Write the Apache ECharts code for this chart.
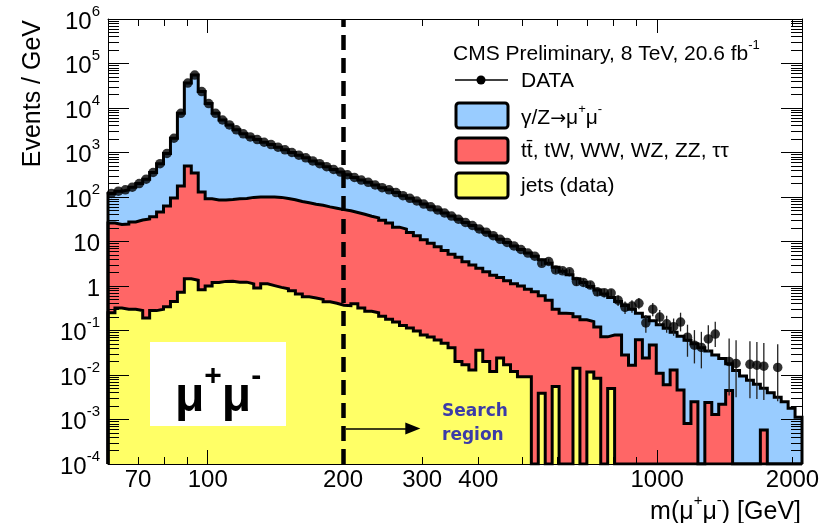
<!DOCTYPE html>
<html>
<head>
<meta charset="utf-8">
<script src="https://cdn.jsdelivr.net/npm/echarts@6/dist/echarts.min.js"></script>
<style>
html,body{margin:0;padding:0;background:#fff;}
#chart{width:836px;height:523px;}
</style>
</head>
<body>
<div id="chart"></div>
<script>
// Binning: log-spaced bins in dimuon mass
const massMin = 60, massMax = 2100, nBins = 100;

// Stacked heights per bin (events / GeV), cumulative from the bottom of the stack
const dyStack = [
  120,135,145,166,200,251,355,562,955,2090,
  7590,36300,55000,23400,12600,7590,5370,4170,3240,2630,
  2240,1950,1700,1510,1320,1150,1000,871,759,646,
  562,479,417,363,316,275,240,214,186,162,
  145,126,107,93.3,81.3,69.2,60.3,51.3,43.7,37.2,
  31.6,26.9,22.9,19.1,16.2,13.5,11.2,9.55,7.94,6.61,
  5.50,4.68,3.89,3.24,2.63,2.14,1.78,1.45,1.20,0.977,
  0.813,0.661,0.550,0.447,0.363,0.302,0.245,0.200,0.166,0.135,
  0.112,0.0912,0.0741,0.0603,0.0501,0.0407,0.0347,0.0282,0.0234,0.0178,
  0.0126,0.00955,0.00759,0.00617,0.00501,0.00398,0.00316,0.00251,0.00178,0.00112
];
const ewkStack = [
  26,24,24.6,27.5,30.4,32,36,46,63,95,
  177,500,347,129,91,86,86,88,91,93,
  98,100,100,100,98,93,87,79,74,69,
  65,60,56,52,49,45,41,37,34,30,
  26,21,19,16,13.5,11,9.1,7.6,6.3,5.2,
  4.4,3.5,2.95,2.5,2.1,1.74,1.55,1.32,1.12,1.0,
  0.85,0.74,0.60,0.48,0.30,0.245,0.24,0.204,0.174,0.158,
  0.12,0.072,0.079,0.079,0.028,0.0166,0.062,0.024,0.047,0.011,
  0.006,0.0129,0.0046,0.00081,0.0025,0,0.0024,0.0013,0.0022,0.0045,
  0,0,0,0,0.00058,0,0,0,0,0
];
const jetsStack = [
  0.25,0.32,0.30,0.30,0.28,0.19,0.28,0.30,0.34,0.45,
  0.72,1.45,1.35,0.82,1.0,1.2,1.27,1.28,1.22,1.22,
  1.12,0.90,1.12,1.02,0.93,0.87,0.78,0.66,0.57,0.54,
  0.50,0.44,0.41,0.37,0.36,0.40,0.32,0.27,0.25,0.21,
  0.18,0.155,0.13,0.114,0.098,0.079,0.071,0.061,0.052,0.041,
  0.020,0.017,0.013,0.036,0.020,0.012,0.024,0.017,0.012,0.0091,
  0.0091,0,0.0039,0,0.0055,0,0,0.0141,0,0.0117,
  0.0085,0,0.0050,0,0,0,0,0,0,0,
  0,0,0,0,0,0,0,0,0,0,
  0,0,0,0,0,0,0,0,0,0
];

// Observed data (events / GeV); null = empty bin
const dataValues = [
  120,135,145,166,200,251,355,562,955,2090,
  7590,36300,55000,23400,12600,7590,5370,4170,3240,2630,
  2240,1950,1700,1510,1320,1150,1000,871,759,646,
  562,479,417,363,316,275,240,214,186,162,
  145,126,107,93.3,81.3,69.2,60.3,51.3,43.7,37.2,
  31.6,26.9,22.9,19.1,16.2,13.5,11.2,9.55,7.94,6.61,
  5.50,4.68,3.24,3.55,2.29,2.19,2.09,1.26,1.20,1.05,
  0.741,0.708,0.692,0.479,0.331,0.355,0.407,0.148,0.302,0.200,
  0.141,0.122,0.155,0.0708,0.0468,0.0417,0.0646,0.0832,null,0.0200,
  0.0182,null,0.0174,0.0166,0.0158,null,0.0148,null,null,null
];
// Visible error bars, starting at bin errorFirstBin
const errorFirstBin = 62;
const dataLow = [
  2.82,3.09,1.95,1.86,1.78,1.02,0.977,0.851,
  0.589,0.562,0.550,0.355,0.234,0.251,0.302,0.0891,0.209,0.132,
  0.0891,0.0759,0.0955,0.0257,0.0182,0.0141,0.0331,0.0427,null,0.00347,
  0.00316,null,0.00302,0.00288,0.00275,null,0.00257,null,null,null
];
const dataHigh = [
  3.72,4.07,2.63,2.51,2.40,1.51,1.45,1.26,
  0.891,0.851,0.832,0.617,0.447,0.479,0.537,0.224,0.417,0.288,
  0.214,0.186,0.251,0.135,0.102,0.0933,0.132,0.158,null,0.0661,
  0.0603,null,0.0575,0.0550,0.0525,null,0.0490,null,null,null
];

// Axis ticks and labels
const yMin = 1e-4, yMax = 1e6;
const xLabelValues = [70, 100, 200, 300, 400, 1000, 2000];
const xMajorTicks = [100, 1000];
const xMinorTicks = [70, 80, 90, 200, 300, 400, 500, 600, 700, 800, 900, 2000];
const yDecades = [-4, -3, -2, -1, 0, 1, 2, 3, 4, 5, 6];

// Search window marker
const searchStart = 200;
const arrowFrom = 203, arrowTo = 286, arrowLevel = 6.3e-4;

const FONT = '"Liberation Sans", Arial, Helvetica, sans-serif';
const colors = { dy: '#99ccff', ewk: '#ff6666', jets: '#ffff66' };

const ratio = Math.pow(massMax / massMin, 1 / nBins);
const edges = Array.from({ length: nBins + 1 }, (_, k) => massMin * Math.pow(ratio, k));
const centers = edges.slice(0, -1).map((e, k) => Math.sqrt(e * edges[k + 1]));

const yMajorTicks = yDecades.map(e => Math.pow(10, e));
const yMinorTicks = [];
yDecades.slice(0, -1).forEach(e => { for (let m = 2; m <= 9; m++) yMinorTicks.push(m * Math.pow(10, e)); });

// Histogram outline: points on low edges, closed down to the floor at both ends
function stepData(vals) {
  const pts = [[edges[0], yMin]];
  vals.forEach((v, k) => pts.push([edges[k], v > 0 ? v : yMin]));
  const last = vals[nBins - 1];
  pts.push([edges[nBins], last > 0 ? last : yMin]);
  pts.push([edges[nBins], yMin]);
  return pts;
}

function histSeries(name, vals, color) {
  return {
    name, type: 'line', data: stepData(vals), step: 'end',
    xAxisIndex: 0, yAxisIndex: 0,
    symbol: 'none', clip: true, silent: true,
    lineStyle: { color: '#000', width: 3, join: 'miter' },
    areaStyle: { color, opacity: 1, origin: 'start' }
  };
}

const markerData = [];
dataValues.forEach((v, k) => { if (v != null) markerData.push([centers[k], v]); });
const errorData = [];
dataLow.forEach((lo, i) => {
  if (lo != null) errorData.push([centers[errorFirstBin + i], lo, dataHigh[i]]);
});

function logAxis(kind, position, major, tickLen, ticks, extra) {
  const isX = kind === 'x';
  return Object.assign({
    type: 'log', logBase: 10,
    min: isX ? massMin : yMin, max: isX ? massMax : yMax,
    position, z: 10,
    splitLine: { show: false },
    axisLine: { show: major, onZero: false, lineStyle: { color: '#000', width: 1 } },
    axisTick: { show: true, inside: true, length: tickLen, customValues: ticks, lineStyle: { color: '#000', width: 1 } },
    axisLabel: { show: false }
  }, extra || {});
}

const textRich = (size, supSize, lift) => ({
  b: { fontFamily: FONT, fontSize: size, fill: '#000', padding: [lift, 0, 0, 0], verticalAlign: 'bottom' },
  a: { fontFamily: '"DejaVu Sans", sans-serif', fontSize: size - 2, fill: '#000', padding: [lift, 0, 0, 0], verticalAlign: 'bottom' },
  s: { fontFamily: FONT, fontSize: supSize, fill: '#000', verticalAlign: 'top' }
});

const option = {
  animation: false,
  backgroundColor: '#fff',
  grid: { left: 108, right: 34, top: 19, bottom: 59 },
  xAxis: [
    logAxis('x', 'bottom', true, 14, xMajorTicks, {
      axisLabel: {
        show: true, customValues: xLabelValues, margin: 4,
        fontFamily: FONT, fontSize: 24, color: '#000',
        formatter: v => String(Math.round(v))
      }
    }),
    logAxis('x', 'bottom', false, 7, xMinorTicks),
    logAxis('x', 'top', true, 14, xMajorTicks),
    logAxis('x', 'top', false, 7, xMinorTicks)
  ],
  yAxis: [
    logAxis('y', 'left', true, 21, yMajorTicks, {
      axisLabel: {
        show: true, customValues: yMajorTicks, margin: 8,
        formatter: v => {
          const e = Math.round(Math.log10(v));
          if (e === 0) return '{b|1}';
          if (e === 1) return '{b|10}';
          return '{b|10}{s|' + e + '}';
        },
        rich: {
          b: { fontFamily: FONT, fontSize: 24, color: '#000', padding: [6, 0, 0, 0], verticalAlign: 'bottom' },
          s: { fontFamily: FONT, fontSize: 15, color: '#000', verticalAlign: 'top' }
        }
      }
    }),
    logAxis('y', 'left', false, 11, yMinorTicks),
    logAxis('y', 'right', true, 21, yMajorTicks),
    logAxis('y', 'right', false, 11, yMinorTicks)
  ],
  series: [
    histSeries('γ/Z→μμ', dyStack, colors.dy),
    histSeries('tt, tW, WW, WZ, ZZ, ττ', ewkStack, colors.ewk),
    histSeries('jets (data)', jetsStack, colors.jets),
    {
      name: 'DATA errors', type: 'custom', xAxisIndex: 0, yAxisIndex: 0,
      data: errorData, silent: true, z: 4,
      renderItem: (params, api) => {
        const x = api.value(0);
        const p1 = api.coord([x, api.value(1)]);
        const p2 = api.coord([x, api.value(2)]);
        return { type: 'line', shape: { x1: p1[0], y1: p1[1], x2: p2[0], y2: p2[1] },
                 style: { stroke: '#222', lineWidth: 1.3 } };
      }
    },
    {
      name: 'DATA', type: 'scatter', xAxisIndex: 0, yAxisIndex: 0,
      data: markerData, symbol: 'circle', symbolSize: 9.5, silent: true, z: 5,
      itemStyle: { color: '#000' },
      markLine: {
        silent: true, symbol: 'none', animation: false,
        label: { show: false },
        data: [
          { xAxis: searchStart, lineStyle: { type: [15, 8], width: 4.5, color: '#000' } },
          [
            { coord: [arrowFrom, arrowLevel], symbol: 'none', lineStyle: { type: 'solid', width: 1.6, color: '#000' } },
            { coord: [arrowTo, arrowLevel], symbol: 'triangle', symbolSize: [12, 15] }
          ]
        ]
      }
    }
  ],
  graphic: [
    // axis titles
    { type: 'text', x: 33, y: 20, rotation: Math.PI / 2, z: 20,
      style: { text: 'Events / GeV', font: '25px ' + FONT, fill: '#000', align: 'right', verticalAlign: 'middle' } },
    { type: 'text', x: 801, y: 509, z: 20,
      style: { text: '{b|m(μ}{s|+}{b|μ}{s|-}{b|) [GeV]}', align: 'right', verticalAlign: 'middle',
        rich: textRich(25, 15, 6) } },
    // legend
    { type: 'text', x: 453, y: 52, z: 20,
      style: { text: '{b|CMS Preliminary, 8 TeV, 20.6 fb}{s|-1}', align: 'left', verticalAlign: 'middle',
        rich: textRich(21, 13, 5) } },
    { type: 'line', z: 20, shape: { x1: 455, y1: 80, x2: 508, y2: 80 }, style: { stroke: '#000', lineWidth: 1.3 } },
    { type: 'circle', z: 21, shape: { cx: 481, cy: 80, r: 4.5 }, style: { fill: '#000' } },
    { type: 'text', x: 521, y: 81, z: 20,
      style: { text: 'DATA', font: '21px ' + FONT, fill: '#000', align: 'left', verticalAlign: 'middle' } },
    { type: 'rect', z: 20, shape: { x: 456, y: 103, width: 52, height: 25, r: 3 },
      style: { fill: colors.dy, stroke: '#000', lineWidth: 3 } },
    { type: 'text', x: 521, y: 116, z: 20,
      style: { text: '{b|γ/Z}{a|→}{b|μ}{s|+}{b|μ}{s|-}', align: 'left', verticalAlign: 'middle',
        rich: textRich(21, 13, 5) } },
    { type: 'rect', z: 20, shape: { x: 456, y: 138, width: 52, height: 25, r: 3 },
      style: { fill: colors.ewk, stroke: '#000', lineWidth: 3 } },
    { type: 'text', x: 521, y: 151, z: 20,
      style: { text: 'tt\u0304, tW, WW, WZ, ZZ, ττ', font: '21px ' + FONT, fill: '#000', align: 'left', verticalAlign: 'middle' } },
    { type: 'rect', z: 20, shape: { x: 456, y: 173, width: 52, height: 25, r: 3 },
      style: { fill: colors.jets, stroke: '#000', lineWidth: 3 } },
    { type: 'text', x: 521, y: 186, z: 20,
      style: { text: 'jets (data)', font: '21px ' + FONT, fill: '#000', align: 'left', verticalAlign: 'middle' } },
    // channel tag
    { type: 'rect', z: 20, shape: { x: 150, y: 342, width: 136, height: 84 }, style: { fill: '#fff' } },
    { type: 'text', x: 218, y: 392, z: 21,
      style: { text: '{b|μ}{s|+}{b|μ}{s|-}', align: 'center', verticalAlign: 'middle',
        rich: { b: { fontFamily: FONT, fontSize: 48, fontWeight: 'bold', fill: '#000', padding: [12, 0, 0, 0], verticalAlign: 'bottom' },
                s: { fontFamily: FONT, fontSize: 30, fontWeight: 'bold', fill: '#000', verticalAlign: 'top' } } } },
    // search window caption
    { type: 'text', x: 442, y: 412, z: 20,
      style: { text: 'Search', font: 'bold 17px "DejaVu Sans", Verdana, sans-serif', fill: '#3b3ba8', align: 'left', verticalAlign: 'middle' } },
    { type: 'text', x: 442, y: 436, z: 20,
      style: { text: 'region', font: 'bold 17px "DejaVu Sans", Verdana, sans-serif', fill: '#3b3ba8', align: 'left', verticalAlign: 'middle' } }
  ]
};

const chart = echarts.init(document.getElementById('chart'), null, { renderer: 'canvas' });
chart.setOption(option);
</script>
</body>
</html>
